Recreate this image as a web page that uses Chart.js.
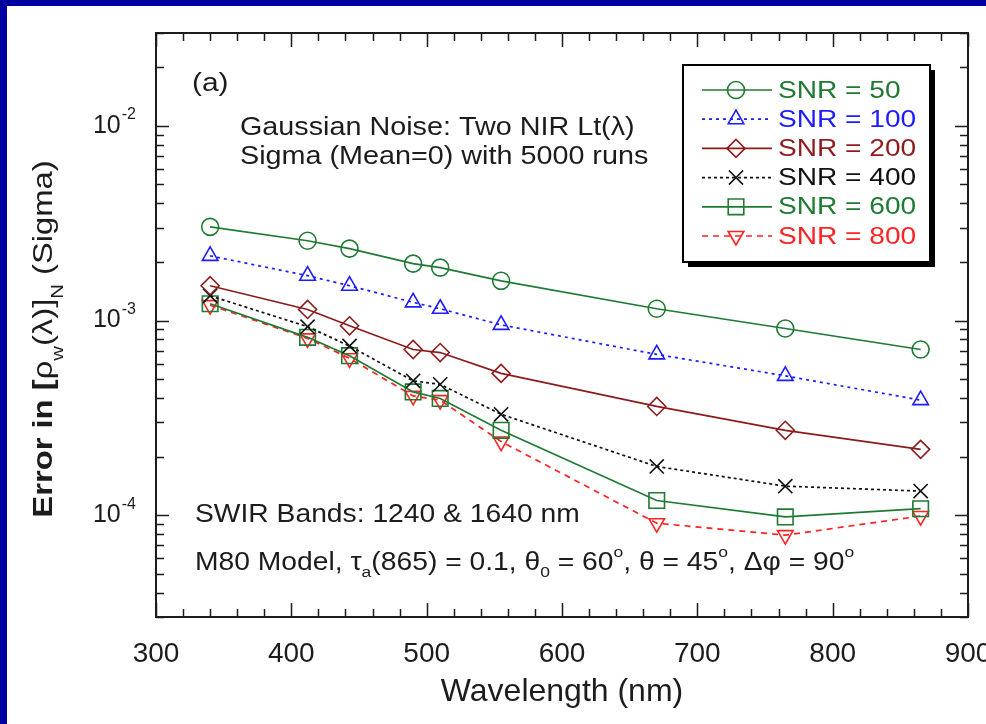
<!DOCTYPE html>
<html>
<head>
<meta charset="utf-8">
<script src="https://cdn.jsdelivr.net/npm/chart.js@4.4.0/dist/chart.umd.min.js"></script>
<style>
html,body{margin:0;padding:0;background:#fff;width:986px;height:724px;overflow:hidden;}
#chart{display:block;}
</style>
</head>
<body>
<canvas id="chart" width="986" height="724"></canvas>
<script>
//Data
var wavelengths = [340, 412, 443, 490, 510, 555, 670, 765, 865];
var snr50  = [3.03e-3, 2.57e-3, 2.34e-3, 1.96e-3, 1.87e-3, 1.60e-3, 1.15e-3, 9.1e-4, 7.1e-4];
var snr100 = [2.15e-3, 1.70e-3, 1.51e-3, 1.24e-3, 1.15e-3, 9.5e-4, 6.7e-4, 5.2e-4, 3.9e-4];
var snr200 = [1.51e-3, 1.14e-3, 9.4e-4, 7.1e-4, 6.85e-4, 5.35e-4, 3.62e-4, 2.73e-4, 2.18e-4];
var snr400 = [1.34e-3, 9.3e-4, 7.4e-4, 4.9e-4, 4.7e-4, 3.3e-4, 1.78e-4, 1.41e-4, 1.33e-4];
var snr600 = [1.22e-3, 8.2e-4, 6.6e-4, 4.3e-4, 3.98e-4, 2.73e-4, 1.19e-4, 9.8e-5, 1.08e-4];
var snr800 = [1.20e-3, 8.1e-4, 6.4e-4, 4.1e-4, 3.9e-4, 2.39e-4, 9.1e-5, 7.9e-5, 9.9e-5];
var seriesLabels = ["SNR = 50", "SNR = 100", "SNR = 200", "SNR = 400", "SNR = 600", "SNR = 800"];
var xTicks = [300, 400, 500, 600, 700, 800, 900];
var yDecades = [-2, -3, -4];

var FONT = "'Liberation Sans', Arial, Helvetica, sans-serif";
var INK = "#1c1c1c";
var GREEN = "#1f7a33";
var BLUE = "#1c1cff";
var DARKRED = "#8c1c1c";
var BLACK = "#111111";
var RED = "#ff2222";
var FRAMEBLUE = "#0000a0";

function pairs(ys){
  var out = [];
  for(var i = 0; i < wavelengths.length; i++){
    out.push({x: wavelengths[i], y: ys[i]});
  }
  return out;
}

function makeSet(label, ys, color, dash, style, radius, rot){
  return {
    label: label,
    data: pairs(ys),
    borderColor: color,
    backgroundColor: color,
    borderWidth: 1.7,
    borderDash: dash,
    pointStyle: style,
    pointRadius: radius,
    pointHoverRadius: radius,
    pointRotation: rot || 0,
    pointBorderColor: color,
    pointBackgroundColor: "rgba(0,0,0,0)",
    pointBorderWidth: 1.6,
    tension: 0,
    fill: false
  };
}

//draw text made of pieces (normal / sub / sup), sx = horizontal stretch
function richText(ctx, x, y, parts, size, sx, measureOnly){
  var w = 0;
  ctx.save();
  ctx.translate(x, y);
  ctx.scale(sx, 1);
  for(var i = 0; i < parts.length; i++){
    var p = parts[i];
    var s = size, dy = 0;
    if(p.sub){ s = size*0.62; dy = size*0.38; }
    if(p.sup){ s = size*0.62; dy = -size*0.42; }
    ctx.font = (p.bold ? "bold " : "") + s + "px " + FONT;
    if(!measureOnly) ctx.fillText(p.t, w, dy);
    w += ctx.measureText(p.t).width;
  }
  ctx.restore();
  return w*sx;
}

function plainText(ctx, t, x, y, size, sx){
  return richText(ctx, x, y, [{t: t}], size, sx, false);
}

function marker(ctx, ds, x, y){
  ctx.save();
  ctx.strokeStyle = ds.pointBorderColor;
  ctx.fillStyle = "rgba(0,0,0,0)";
  ctx.lineWidth = ds.pointBorderWidth;
  ctx.setLineDash([]);
  Chart.helpers.drawPoint(ctx, {
    pointStyle: ds.pointStyle,
    rotation: ds.pointRotation,
    radius: ds.pointRadius,
    borderWidth: ds.pointBorderWidth
  }, x, y);
  ctx.restore();
}

var decor = {
  id: "decor",
  beforeDraw: function(chart){
    var ctx = chart.ctx;
    ctx.save();
    ctx.fillStyle = "#fff";
    ctx.fillRect(0, 0, chart.width, chart.height);
    ctx.fillStyle = FRAMEBLUE;
    ctx.fillRect(0, 0, chart.width, 6);
    ctx.fillRect(0, 0, 7, chart.height);
    ctx.restore();
  },
  afterDraw: function(chart){
    var ctx = chart.ctx;
    var a = chart.chartArea;
    var xs = chart.scales.x, ys = chart.scales.y;
    ctx.save();

    //frame
    ctx.strokeStyle = INK;
    ctx.lineWidth = 2;
    ctx.strokeRect(a.left, a.top, a.right - a.left, a.bottom - a.top);

    //inward ticks
    ctx.lineWidth = 1.5;
    ctx.beginPath();
    for(var v = 300; v <= 900; v += 20){
      var px = Math.round(xs.getPixelForValue(v)) + 0.5;
      var len = (v % 100 == 0) ? 14 : 8;
      ctx.moveTo(px, a.bottom); ctx.lineTo(px, a.bottom - len);
      ctx.moveTo(px, a.top); ctx.lineTo(px, a.top + len);
    }
    for(var e = -5; e <= -2; e++){
      for(var m = 1; m <= 9; m++){
        var val = m*Math.pow(10, e);
        if(val < ys.min*0.999 || val > ys.max*1.001) continue;
        var py = Math.round(ys.getPixelForValue(val)) + 0.5;
        var l2 = (m == 1) ? 13 : 8;
        ctx.moveTo(a.left, py); ctx.lineTo(a.left + l2, py);
        ctx.moveTo(a.right, py); ctx.lineTo(a.right - l2, py);
      }
    }
    ctx.stroke();

    //y tick labels 10^n
    ctx.fillStyle = INK;
    ctx.textBaseline = "middle";
    ctx.textAlign = "left";
    yDecades.forEach(function(d){
      var py = ys.getPixelForValue(Math.pow(10, d));
      ctx.font = "25px " + FONT;
      var w1 = ctx.measureText("10").width;
      ctx.font = "16px " + FONT;
      var w2 = ctx.measureText(String(d)).width;
      var x0 = a.left - 21 - w1 - w2;
      ctx.font = "25px " + FONT;
      ctx.fillText("10", x0, py);
      ctx.font = "16px " + FONT;
      ctx.fillText(String(d), x0 + w1 + 1, py - 11);
    });

    //y axis title (rotated)
    var yTitle = [
      {t: "Error in [", bold: true},
      {t: "\u03c1"},
      {t: "w", sub: true},
      {t: "(\u03bb)]"},
      {t: "N", sub: true},
      {t: " (Sigma)"}
    ];
    ctx.save();
    ctx.translate(52, 339);
    ctx.rotate(-Math.PI/2);
    ctx.textBaseline = "alphabetic";
    var tw = richText(ctx, 0, 0, yTitle, 28, 1.17, true);
    richText(ctx, -tw/2, 0, yTitle, 28, 1.17, false);
    ctx.restore();

    //annotations
    ctx.textBaseline = "middle";
    plainText(ctx, "(a)", 192, 84, 26, 1.15);
    plainText(ctx, "Gaussian Noise: Two NIR Lt(\u03bb)", 240, 128, 25, 1.15);
    plainText(ctx, "Sigma (Mean=0) with 5000 runs", 240, 157, 25, 1.15);
    plainText(ctx, "SWIR Bands: 1240 & 1640 nm", 195, 515, 25, 1.13);
    richText(ctx, 195, 563, [
      {t: "M80 Model, \u03c4"}, {t: "a", sub: true},
      {t: "(865) = 0.1, \u03b8"}, {t: "0", sub: true},
      {t: " = 60"}, {t: "o", sup: true},
      {t: ", \u03b8 = 45"}, {t: "o", sup: true},
      {t: ", \u0394\u03c6 = 90"}, {t: "o", sup: true}
    ], 25, 1.13, false);

    //legend box with shadow
    var bx = 683, by = 65, bw = 247, bh = 197;
    ctx.fillStyle = "#000";
    ctx.fillRect(bx + 5, by + 5, bw, bh);
    ctx.fillStyle = "#fff";
    ctx.fillRect(bx, by, bw, bh);
    ctx.strokeStyle = "#000";
    ctx.lineWidth = 2;
    ctx.strokeRect(bx, by, bw, bh);

    chart.data.datasets.forEach(function(ds, i){
      var ry = 90 + i*29.2;
      ctx.save();
      ctx.strokeStyle = ds.borderColor;
      ctx.lineWidth = ds.borderWidth;
      ctx.setLineDash(ds.borderDash || []);
      ctx.beginPath();
      ctx.moveTo(702, ry); ctx.lineTo(772, ry);
      ctx.stroke();
      ctx.restore();
      marker(ctx, ds, 736, ry);
      ctx.fillStyle = ds.borderColor;
      ctx.textBaseline = "middle";
      plainText(ctx, ds.label, 778, ry + 1, 24, 1.17);
    });

    ctx.restore();
  }
};

function initChart(){
  var ctx = document.getElementById("chart").getContext("2d");
  new Chart(ctx, {
    type: "line",
    data: {
      datasets: [
        makeSet(seriesLabels[0], snr50, GREEN, [], "circle", 8.5),
        makeSet(seriesLabels[1], snr100, BLUE, [3, 4], "triangle", 9),
        makeSet(seriesLabels[2], snr200, DARKRED, [], "rectRot", 9),
        makeSet(seriesLabels[3], snr400, BLACK, [3, 3], "crossRot", 10),
        makeSet(seriesLabels[4], snr600, GREEN, [], "rect", 11),
        makeSet(seriesLabels[5], snr800, RED, [6, 5], "triangle", 9, 180)
      ]
    },
    options: {
      responsive: false,
      animation: false,
      devicePixelRatio: 1,
      layout: {padding: {left: 0, top: 33, right: 18, bottom: 0}},
      plugins: {legend: {display: false}, tooltip: {enabled: false}},
      scales: {
        x: {
          type: "linear",
          min: 300, max: 900,
          afterBuildTicks: function(s){ s.ticks = xTicks.map(function(v){ return {value: v}; }); },
          ticks: {color: INK, font: {family: FONT, size: 28}, padding: 20, maxRotation: 0},
          grid: {display: false, drawTicks: false},
          border: {display: false},
          title: {display: true, text: "Wavelength (nm)", color: INK, font: {family: FONT, size: 32}, padding: {top: 0, bottom: 13}},
          afterFit: function(s){ s.height = 107; s.paddingLeft = 0; s.paddingRight = 0; }
        },
        y: {
          type: "logarithmic",
          min: 3e-5, max: 3e-2,
          ticks: {display: false},
          grid: {display: false, drawTicks: false},
          border: {display: false},
          afterFit: function(s){ s.width = 156; s.paddingTop = 0; s.paddingBottom = 0; }
        }
      }
    },
    plugins: [decor]
  });
}

window.onload = initChart;
</script>
</body>
</html>
